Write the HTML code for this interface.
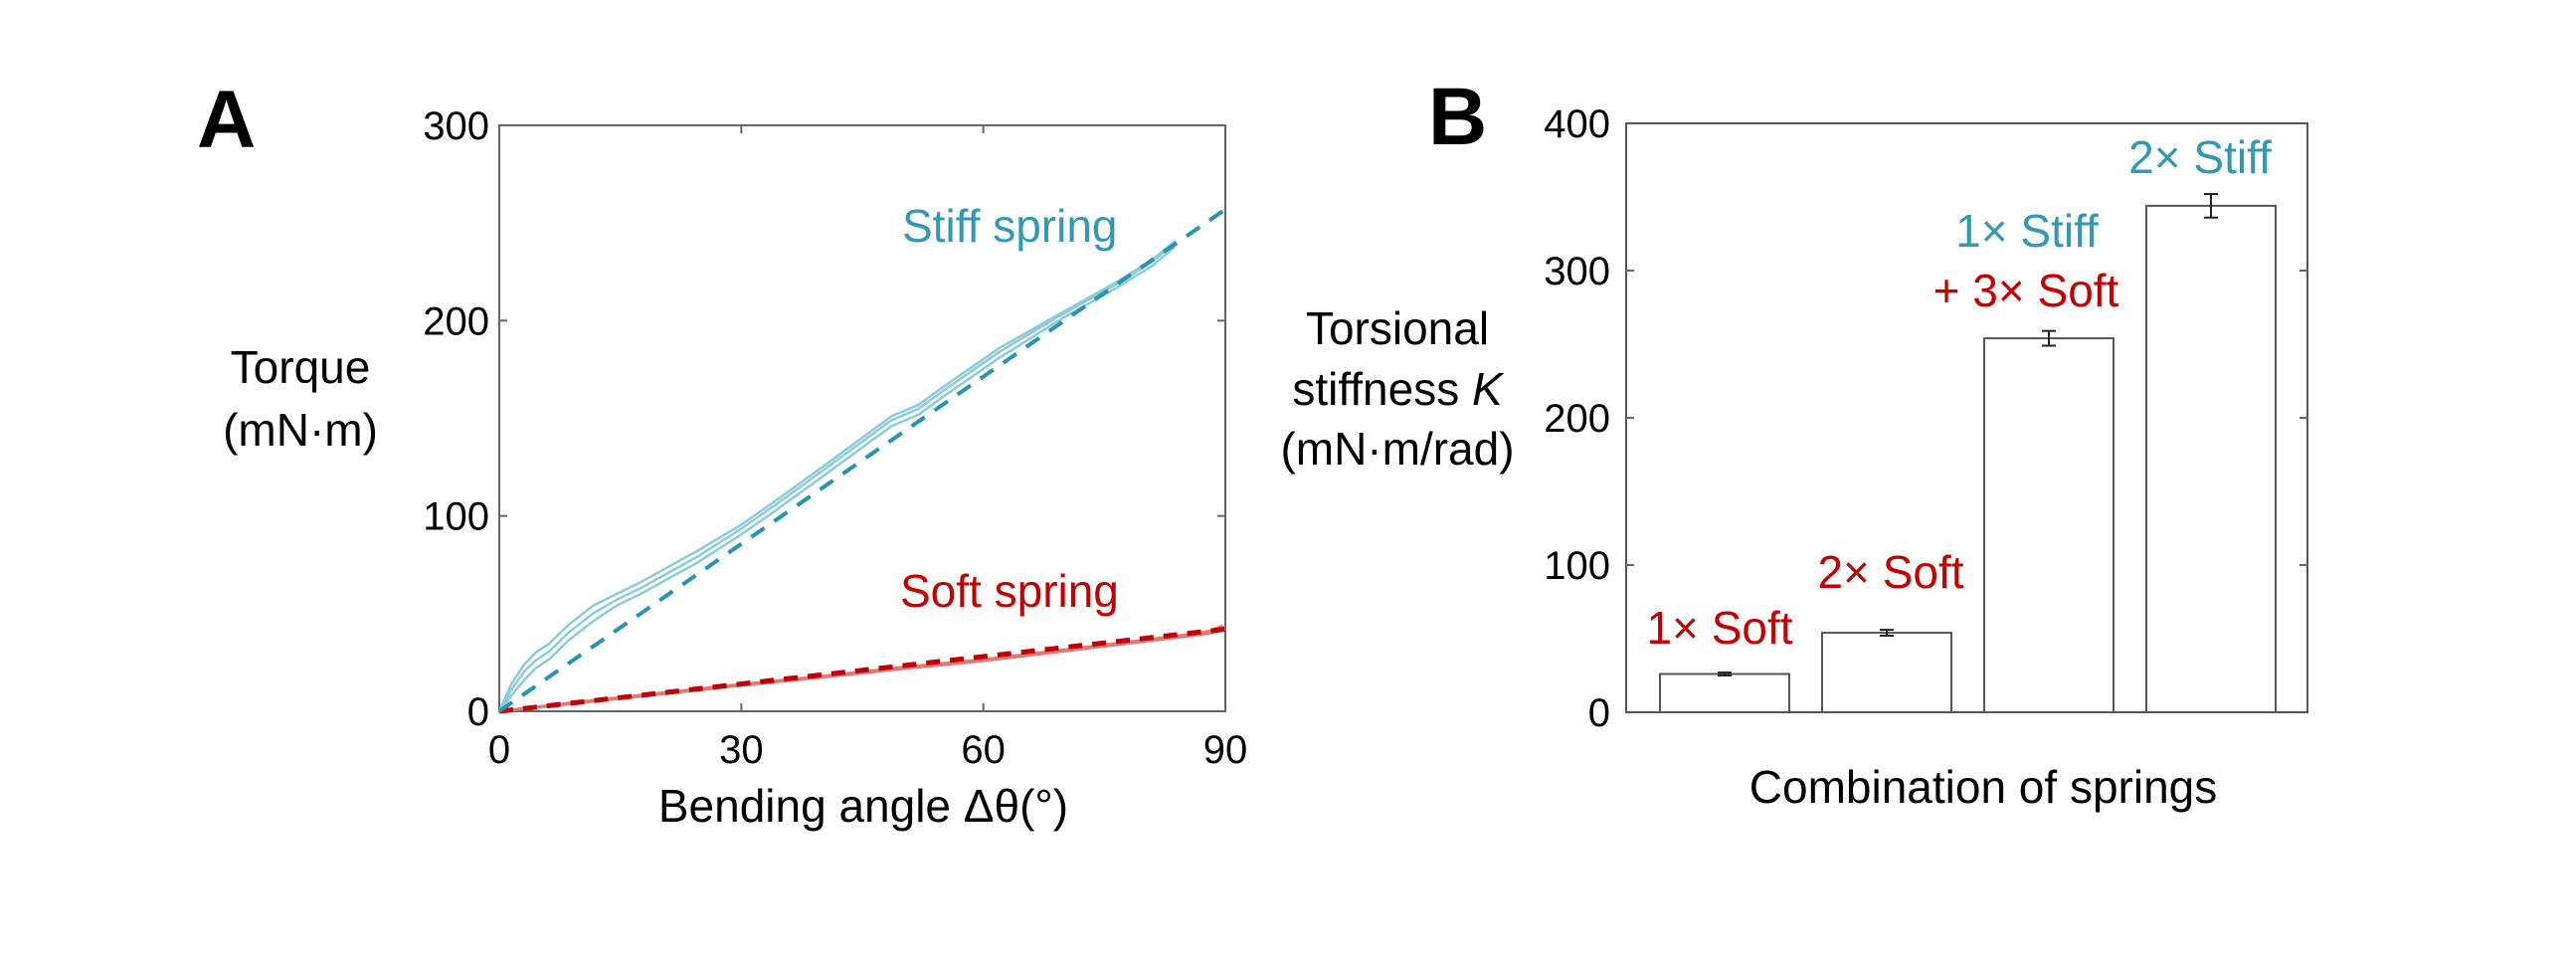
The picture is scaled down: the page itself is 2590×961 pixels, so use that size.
<!DOCTYPE html>
<html><head><meta charset="utf-8"><style>
html,body{margin:0;padding:0;background:#fff;}
svg{display:block;font-family:"Liberation Sans",Arial,sans-serif;}
</style></head><body>
<svg id="fig" width="2590" height="961" viewBox="0 0 2590 961">
<g id="panelA"></g>
<g id="panelB"></g>
</svg>
<script>
// ---------- Panel A data ----------
const stiffAngles = [0, 1.5, 3.1, 4.5, 6.3, 8.5, 11.6, 14.5, 17.5, 21, 24.5, 29.8, 34, 41, 48.6, 52, 55, 62, 69.7, 76.2, 80.9, 83.8];
const stiffTorqueMid = [0, 11, 20.5, 26, 31, 40, 50, 57, 63, 71, 79, 93, 105, 126, 149, 155, 164, 184, 203, 218, 230, 240];
const stiffTorqueHigh = [0, 14, 24, 30, 35, 44, 54, 60, 66, 74, 82, 95, 107, 128, 151, 157, 166, 186, 204, 219, 231, 241];
const stiffTorqueLow = [0, 8, 16, 22, 27, 36, 46, 54, 60, 68, 76, 90, 102, 123, 146, 152, 161, 181, 201, 216, 228, 238];
const stiffFitAngles = [0, 90];
const stiffFitTorque = [0, 257];
const softAngles = [0, 10, 20, 30, 40, 50, 60, 70, 80, 86, 88, 89.5, 90];
const softTorqueA = [0, 4.8, 9.3, 13.8, 18, 22.5, 26.5, 31.5, 36.5, 39.5, 41, 43.5, 42.5];
const softTorqueB = [0, 4.4, 8.8, 13.3, 17.4, 21.8, 25.8, 30.8, 35.8, 38.8, 40, 41.5, 41.8];
const softFitAngles = [0, 90];
const softFitTorque = [0, 42];
const xTicksA = [0, 30, 60, 90];
const yTicksA = [0, 100, 200, 300];

// ---------- Panel B data ----------
const barCategories = ["1× Soft", "2× Soft", "1× Stiff + 3× Soft", "2× Stiff"];
const barValues = [26, 54, 254, 344];
const barErrors = [1, 2, 5, 8];
const yTicksB = [0, 100, 200, 300, 400];

const NS = "http://www.w3.org/2000/svg";
function mk(parent, tag, attrs, text) {
  const e = document.createElementNS(NS, tag);
  for (const k in attrs) e.setAttribute(k, attrs[k]);
  if (text !== undefined) e.textContent = text;
  parent.appendChild(e);
  return e;
}
const BLUE_T = "#3399b3", BLUE_L = "#8ccbd9", BLUE_D = "#2a93ae", RED = "#c00000", RED_L = "#e07a7a";

// ---------- Panel A ----------
const A = document.getElementById("panelA");
const AX0 = 502, AX1 = 1232, AY0 = 126, AY1 = 715;
const xA = d => AX0 + d * (AX1 - AX0) / 90;
const yA = v => AY1 - v * (AY1 - AY0) / 300;

let t = mk(A, "text", {x: 198, y: 148, "font-size": 82, "font-weight": "bold"}, "A");



let fr = mk(A, "rect", {x: AX0, y: AY0, width: AX1 - AX0, height: AY1 - AY0, fill: "none", stroke: "#666", "stroke-width": 2});



xTicksA.forEach(v => {
  const x = xA(v);
  if (v > 0 && v < 90) {
    mk(A, "line", {x1: x, y1: AY1, x2: x, y2: AY1 - 8, stroke: "#666", "stroke-width": 2});
    mk(A, "line", {x1: x, y1: AY0, x2: x, y2: AY0 + 8, stroke: "#666", "stroke-width": 2});
  }
  const l = mk(A, "text", {x: x, y: 767, "font-size": 40, "text-anchor": "middle"}, String(v));
  
  
});
yTicksA.forEach(v => {
  const y = yA(v);
  if (v > 0 && v < 300) {
    mk(A, "line", {x1: AX0, y1: y, x2: AX0 + 8, y2: y, stroke: "#666", "stroke-width": 2});
    mk(A, "line", {x1: AX1, y1: y, x2: AX1 - 8, y2: y, stroke: "#666", "stroke-width": 2});
  }
  const l = mk(A, "text", {x: 492, y: y + 14, "font-size": 40, "text-anchor": "end"}, String(v));
  
  
});

function poly(parent, xs, ys, attrs, name) {
  const pts = xs.map((d, i) => xA(d).toFixed(1) + "," + yA(ys[i]).toFixed(1)).join(" ");
  const p = mk(parent, "polyline", Object.assign({points: pts, fill: "none", "stroke-linejoin": "round"}, attrs));
  
  
  return p;
}
poly(A, softAngles, softTorqueA, {stroke: RED_L, "stroke-width": 3}, "soft-trial-1");
poly(A, softAngles, softTorqueB, {stroke: RED_L, "stroke-width": 3}, "soft-trial-2");
poly(A, softFitAngles, softFitTorque, {stroke: RED, "stroke-width": 5, "stroke-dasharray": "14 10"}, "soft-fit-line");
poly(A, stiffAngles, stiffTorqueHigh, {stroke: BLUE_L, "stroke-width": 2.5}, "stiff-trial-1");
poly(A, stiffAngles, stiffTorqueMid, {stroke: BLUE_L, "stroke-width": 2.5}, "stiff-trial-2");
poly(A, stiffAngles, stiffTorqueLow, {stroke: BLUE_L, "stroke-width": 2.5}, "stiff-trial-3");
poly(A, stiffFitAngles, stiffFitTorque, {stroke: BLUE_D, "stroke-width": 4, "stroke-dasharray": "16 12"}, "stiff-fit-line");

t = mk(A, "text", {x: 907, y: 243, "font-size": 46, fill: BLUE_T}, "Stiff spring");


t = mk(A, "text", {x: 905, y: 610, "font-size": 46, fill: RED}, "Soft spring");



t = mk(A, "text", {x: 302, y: 385, "font-size": 46, "text-anchor": "middle"}, "Torque");


t = mk(A, "text", {x: 302, y: 448, "font-size": 46, "text-anchor": "middle"}, "(mN·m)");


t = mk(A, "text", {x: 868, y: 826, "font-size": 46, "text-anchor": "middle"}, "Bending angle Δθ(°)");



// ---------- Panel B ----------
const B = document.getElementById("panelB");
const BX0 = 1635, BX1 = 2320, BY0 = 124, BY1 = 716;
const yB = v => BY1 - v * (BY1 - BY0) / 400;
const barW = 130, barStep = 163;
const xB = i => 1734 + i * barStep;

t = mk(B, "text", {x: 1436, y: 145, "font-size": 82, "font-weight": "bold"}, "B");



fr = mk(B, "rect", {x: BX0, y: BY0, width: BX1 - BX0, height: BY1 - BY0, fill: "none", stroke: "#555", "stroke-width": 2});



yTicksB.forEach(v => {
  const y = yB(v);
  if (v > 0 && v < 400) {
    mk(B, "line", {x1: BX0, y1: y, x2: BX0 + 8, y2: y, stroke: "#666", "stroke-width": 2});
    mk(B, "line", {x1: BX1, y1: y, x2: BX1 - 8, y2: y, stroke: "#666", "stroke-width": 2});
  }
  const l = mk(B, "text", {x: 1619, y: y + 14, "font-size": 40, "text-anchor": "end"}, String(v));
  
  
});

barValues.forEach((v, i) => {
  const cx = xB(i);
  const r = mk(B, "rect", {x: cx - barW / 2, y: yB(v), width: barW, height: BY1 - yB(v), fill: "#fff", stroke: "#555", "stroke-width": 2});
  
  
  const e = barErrors[i];
  const g = mk(B, "g", {stroke: "#222", "stroke-width": 2});
  
  
  mk(g, "line", {x1: cx, y1: yB(v + e), x2: cx, y2: yB(v - e)});
  mk(g, "line", {x1: cx - 7, y1: yB(v + e), x2: cx + 7, y2: yB(v + e)});
  mk(g, "line", {x1: cx - 7, y1: yB(v - e), x2: cx + 7, y2: yB(v - e)});
});

function lbl(x, y, txt, fill, name) {
  const l = mk(B, "text", {x: x, y: y, "font-size": 46, fill: fill, "text-anchor": "middle"}, txt);
  
  
}
lbl(1729, 647, barCategories[0], RED, 'bar-label-1');
lbl(1901, 591, barCategories[1], RED, 'bar-label-2');
lbl(2038, 248, "1× Stiff", BLUE_T, 'bar-label-3-stiff');
lbl(2037, 308, "+ 3× Soft", RED, 'bar-label-3-soft');
lbl(2212, 174, barCategories[3], BLUE_T, 'bar-label-4');

t = mk(B, "text", {x: 1405, y: 346, "font-size": 46, "text-anchor": "middle"}, "Torsional");


t = mk(B, "text", {x: 1405, y: 407, "font-size": 46, "text-anchor": "middle"});


mk(t, "tspan", {}, "stiffness ");
mk(t, "tspan", {"font-style": "italic"}, "K");
t = mk(B, "text", {x: 1405, y: 467, "font-size": 46, "text-anchor": "middle"}, "(mN·m/rad)");


t = mk(B, "text", {x: 1994, y: 807, "font-size": 46, "text-anchor": "middle"}, "Combination of springs");


</script>
</body></html>
